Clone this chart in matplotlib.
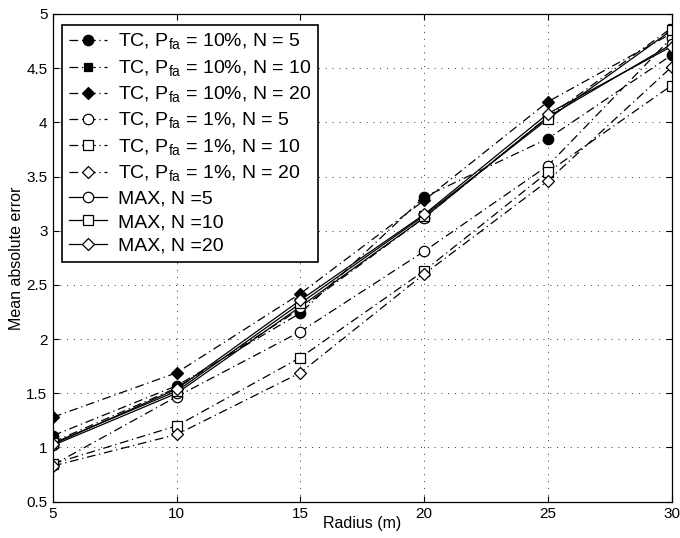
import matplotlib
matplotlib.use("Agg")
import matplotlib.pyplot as plt

plt.rcParams['font.family'] = ['Liberation Sans', 'DejaVu Sans']
plt.rcParams['mathtext.fontset'] = 'custom'
plt.rcParams['mathtext.rm'] = 'Liberation Sans'

radius = [5, 10, 15, 20, 25, 30]

tc10_n5 = [1.11, 1.57, 2.24, 3.31, 3.85, 4.62]
tc10_n10 = [1.05, 1.55, 2.28, 3.12, 4.05, 4.87]
tc10_n20 = [1.28, 1.69, 2.42, 3.28, 4.19, 4.82]
tc1_n5 = [0.84, 1.47, 2.07, 2.81, 3.60, 4.78]
tc1_n10 = [0.85, 1.20, 1.83, 2.63, 3.54, 4.34]
tc1_n20 = [0.83, 1.12, 1.69, 2.60, 3.46, 4.51]
max_n5 = [1.02, 1.50, 2.30, 3.12, 4.05, 4.72]
max_n10 = [1.04, 1.52, 2.33, 3.14, 4.03, 4.85]
max_n20 = [1.03, 1.54, 2.36, 3.15, 4.08, 4.70]

labels = [
    r"TC, P$_{\mathrm{fa}}$ = 10%, N = 5",
    r"TC, P$_{\mathrm{fa}}$ = 10%, N = 10",
    r"TC, P$_{\mathrm{fa}}$ = 10%, N = 20",
    r"TC, P$_{\mathrm{fa}}$ = 1%, N = 5",
    r"TC, P$_{\mathrm{fa}}$ = 1%, N = 10",
    r"TC, P$_{\mathrm{fa}}$ = 1%, N = 20",
    "MAX, N =5",
    "MAX, N =10",
    "MAX, N =20",
]

series = [tc10_n5, tc10_n10, tc10_n20, tc1_n5, tc1_n10, tc1_n20,
          max_n5, max_n10, max_n20]
markers = ['o', 's', 'D', 'o', 's', 'D', 'o', 's', 'D']
msizes = [7.5, 5.5, 6, 7.5, 6.5, 6, 7.5, 6.5, 6]
faces = ['black', 'black', 'black', 'white', 'white', 'white',
         'white', 'white', 'white']
styles = ['-.', '-.', '-.', '-.', '-.', '-.', '-', '-', '-']

fig = plt.figure(figsize=(6.8, 5.38), dpi=100)
ax = fig.add_axes([0.078, 0.0675, 0.9095, 0.9065])

for ys, m, ms, fc, ls, lab in zip(series, markers, msizes, faces, styles, labels):
    kw = dict(dashes=(7, 3, 1, 3)) if ls == '-.' else dict(linestyle='-')
    ax.plot(radius, ys, color='black', linewidth=0.9,
            marker=m, markersize=ms,
            markerfacecolor=fc, markeredgecolor='black',
            markeredgewidth=0.9, label=lab, **kw)

ax.set_xlim(5, 30)
ax.set_ylim(0.5, 5)
ax.set_xticks([5, 10, 15, 20, 25, 30])
ax.set_yticks([0.5, 1, 1.5, 2, 2.5, 3, 3.5, 4, 4.5, 5])
ax.set_yticklabels(['0.5', '1', '1.5', '2', '2.5', '3', '3.5', '4', '4.5', '5'])
ax.tick_params(direction='in', top=True, right=True, labelsize=11,
               length=4, width=0.8, pad=4)
ax.grid(True, linestyle=(0, (1, 6)), color='#333333', linewidth=0.7)
for s in ax.spines.values():
    s.set_linewidth(0.9)

ax.set_xlabel("Radius (m)", fontsize=11.5, labelpad=-4)
ax.set_ylabel("Mean absolute error", fontsize=11.5, labelpad=2)

leg = ax.legend(loc='upper left', bbox_to_anchor=(0.0, 0.995),
                fontsize=14, frameon=True, fancybox=False,
                edgecolor='black', framealpha=1, handlelength=2.0,
                borderaxespad=0.45, labelspacing=0.31, handletextpad=0.55,
                borderpad=0.35)
leg.get_frame().set_linewidth(1.2)

fig.savefig("out.png", dpi=100)
